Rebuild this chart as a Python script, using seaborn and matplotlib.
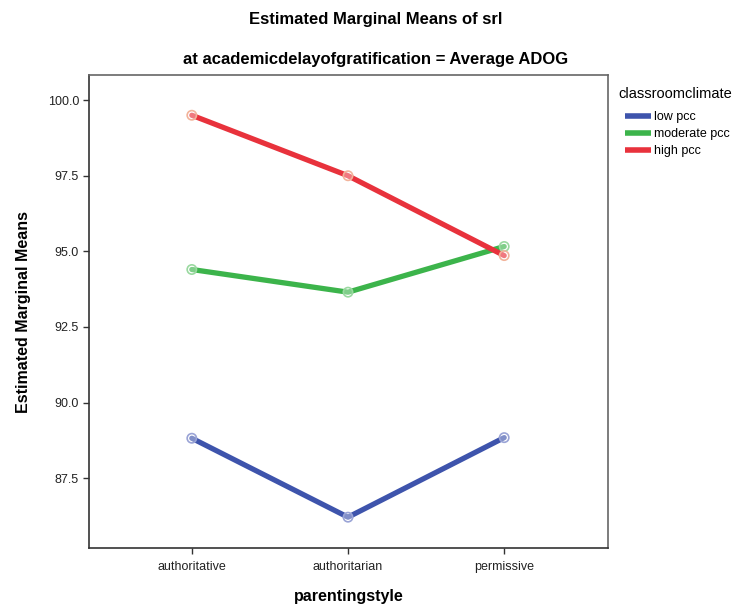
import matplotlib
matplotlib.use("Agg")
import matplotlib.pyplot as plt
import seaborn as sns
import pandas as pd

categories = ["authoritative", "authoritarian", "permissive"]
groups = ["low pcc", "moderate pcc", "high pcc"]
low_pcc = [88.82, 86.21, 88.84]
moderate_pcc = [94.40, 93.65, 95.16]
high_pcc = [99.50, 97.50, 94.86]
yticks = [87.5, 90.0, 92.5, 95.0, 97.5, 100.0]

colors = ["#3e54ac", "#3cb44b", "#e8323c"]
pale = ["#9aa4d6", "#9ad9a0", "#f2b39a"]

rows = []
for g, vals in zip(groups, [low_pcc, moderate_pcc, high_pcc]):
    for i, (c, v) in enumerate(zip(categories, vals)):
        rows.append({"parentingstyle": c, "pos": i, "classroomclimate": g, "mean": v})
df = pd.DataFrame(rows)

sns.set_theme(style="white")
plt.rcParams["font.family"] = ["Liberation Sans", "DejaVu Sans"]
plt.rcParams["text.color"] = "black"
plt.rcParams["axes.labelcolor"] = "black"

fig = plt.figure(figsize=(7.52, 6.10), dpi=100)
ax = fig.add_axes([0.118, 0.1016, 0.691, 0.7754])

sns.lineplot(data=df, x="pos", y="mean", hue="classroomclimate",
             hue_order=groups, palette=colors, linewidth=3.8, ax=ax,
             legend=True, solid_capstyle="round")
sns.scatterplot(data=df, x="pos", y="mean", hue="classroomclimate",
                hue_order=groups, palette=pale,
                s=45, linewidth=1.2, ax=ax, legend=False, zorder=5)
for coll in ax.collections:
    fc = coll.get_facecolors()
    coll.set_edgecolors(fc)
    coll.set_facecolors((1, 1, 1, 0.35))

ax.set_xlim(-0.66, 2.667)
ax.set_ylim(85.19, 100.83)
ax.set_xticks(range(len(categories)))
ax.set_xticklabels(categories)
ax.set_yticks(yticks)
ax.set_yticklabels([f"{t:.1f}" for t in yticks])
ax.tick_params(axis="both", which="major", labelsize=9, length=4, width=1,
               color="#333333", labelcolor="#222222", left=True, bottom=True, pad=3)
ax.tick_params(axis="x", pad=5)
for s in ["left", "bottom"]:
    ax.spines[s].set_color("#333333")
    ax.spines[s].set_linewidth(1.2)
for s in ["top", "right"]:
    ax.spines[s].set_color("#666666")
    ax.spines[s].set_linewidth(1.2)

ax.set_xlabel("parentingstyle", fontsize=11.5, fontweight="bold", labelpad=12)
ax.set_ylabel("Estimated Marginal Means", fontsize=11.5, fontweight="bold", labelpad=12)

fig.text(0.5, 0.968, "Estimated Marginal Means of srl", ha="center", va="center",
         fontsize=12, fontweight="bold")
fig.text(0.5, 0.903, "at academicdelayofgratification = Average ADOG", ha="center",
         va="center", fontsize=12, fontweight="bold")

fig.text(618 / 752, 1 - 94 / 610, "classroomclimate", ha="left", va="center",
         fontsize=10.5)
leg = ax.legend(loc="upper left", bbox_to_anchor=(625 / 752, 1 - 111 / 610),
                bbox_transform=fig.transFigure, frameon=False, fontsize=9,
                handlelength=2.1, handletextpad=0.25,
                labelspacing=0.4, borderaxespad=0, borderpad=0)
for h in leg.get_lines():
    h.set_linewidth(4)
    h.set_solid_capstyle("butt")

fig.savefig("out.png", dpi=100, facecolor="white")
